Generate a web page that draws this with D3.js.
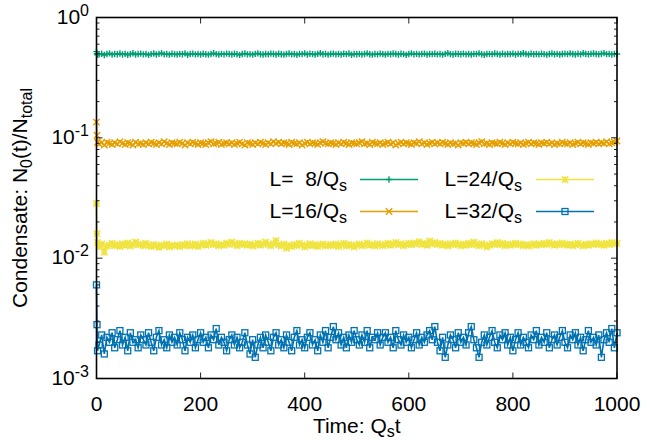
<!DOCTYPE html>
<html>
<head>
<meta charset="utf-8">
<script src="https://cdn.jsdelivr.net/npm/d3@7"></script>
<style>
  body { margin: 0; background: #fff; }
  text { font-family: "Liberation Sans", Arial, sans-serif; fill: #000; }
</style>
</head>
<body>
<div id="chart"></div>
<script>
// sampling times (Q_s t): first few early steps, then every 5
const time = [0, 1, 2].concat(d3.range(5, 1001, 5));

const seriesNames = ["L=  8/Q", "L=16/Q", "L=24/Q", "L=32/Q"];
const seriesColors = ["#009e73", "#e69f00", "#f0e442", "#0072b2"];
const seriesMarks = ["plus", "cross", "star", "square"];

const L8 = [.52,.50,.49,
  .494,.500,.488,.497,.503,.491,.498,.495,.502,.493,
  .499,.490,.496,.504,.492,.498,.501,.494,.497,.489,
  .496,.502,.493,.499,.505,.494,.497,.491,.500,.496,
  .492,.499,.495,.503,.490,.497,.501,.494,.498,.493,
  .500,.495,.491,.498,.504,.496,.492,.499,.494,.501,
  .497,.493,.500,.495,.489,.498,.502,.494,.496,.491,
  .499,.503,.495,.492,.498,.494,.501,.497,.493,.500,
  .495,.491,.498,.502,.494,.497,.490,.499,.496,.503,
  .493,.500,.496,.492,.499,.504,.495,.498,.491,.497,
  .501,.494,.498,.493,.500,.496,.502,.490,.497,.495,
  .499,.493,.497,.503,.495,.491,.498,.494,.501,.496,
  .492,.499,.495,.502,.497,.493,.500,.496,.489,.498,
  .503,.495,.499,.494,.497,.501,.492,.498,.496,.500,
  .494,.498,.491,.499,.505,.496,.493,.500,.497,.495,
  .501,.494,.498,.492,.499,.496,.503,.495,.490,.497,
  .499,.495,.502,.497,.493,.500,.494,.498,.496,.501,
  .493,.499,.496,.504,.498,.492,.500,.495,.497,.494,
  .500,.496,.491,.498,.502,.495,.499,.493,.497,.501,
  .496,.503,.497,.493,.500,.494,.505,.498,.495,.499,
  .502,.497,.494,.500,.506,.496,.499,.493,.498,.497];

const L16 = [.135,.105,.092,
  .089,.091,.087,.092,.090,.088,.091,.089,.093,.090,
  .088,.091,.090,.087,.092,.089,.090,.088,.091,.089,
  .092,.090,.088,.091,.089,.093,.090,.088,.091,.090,
  .089,.092,.090,.087,.091,.089,.092,.090,.088,.091,
  .090,.088,.091,.093,.089,.090,.092,.088,.090,.091,
  .089,.091,.088,.090,.092,.089,.087,.091,.090,.088,
  .091,.089,.092,.090,.088,.091,.089,.093,.090,.092,
  .089,.091,.090,.088,.092,.090,.089,.091,.087,.090,
  .092,.089,.091,.090,.088,.091,.093,.090,.089,.091,
  .090,.088,.091,.089,.092,.090,.088,.091,.090,.089,
  .091,.093,.089,.090,.088,.092,.090,.089,.091,.088,
  .090,.092,.089,.091,.087,.090,.092,.089,.091,.090,
  .088,.091,.090,.093,.089,.091,.088,.090,.092,.089,
  .091,.089,.092,.090,.088,.091,.089,.090,.087,.091,
  .090,.092,.089,.091,.090,.088,.091,.093,.089,.090,
  .088,.091,.090,.089,.092,.090,.088,.091,.089,.092,
  .090,.089,.091,.088,.090,.092,.089,.091,.090,.088,
  .091,.090,.092,.089,.091,.088,.090,.089,.092,.090,
  .089,.091,.088,.090,.092,.089,.091,.090,.088,.091,
  .090,.092,.089,.091,.090,.093,.089,.091,.092,.094];

const L24 = [.0285,.0160,.0135,
  .0124,.0131,.0112,.0126,.0129,.0133,.0127,.0130,.0125,.0132,
  .0128,.0134,.0126,.0130,.0136,.0129,.0131,.0127,.0133,.0128,
  .0125,.0130,.0127,.0123,.0129,.0126,.0131,.0124,.0128,.0126,
  .0129,.0125,.0130,.0127,.0132,.0126,.0128,.0131,.0125,.0129,
  .0133,.0128,.0131,.0135,.0129,.0132,.0127,.0130,.0128,.0134,
  .0130,.0136,.0131,.0127,.0133,.0129,.0132,.0128,.0131,.0126,
  .0129,.0133,.0128,.0131,.0136,.0130,.0127,.0132,.0140,.0129,
  .0126,.0131,.0121,.0128,.0125,.0130,.0127,.0133,.0129,.0124,
  .0128,.0132,.0127,.0130,.0125,.0129,.0131,.0126,.0128,.0130,
  .0127,.0131,.0125,.0129,.0133,.0126,.0130,.0128,.0124,.0129,
  .0131,.0127,.0129,.0134,.0128,.0130,.0126,.0132,.0129,.0127,
  .0130,.0133,.0128,.0131,.0135,.0129,.0132,.0127,.0130,.0133,
  .0129,.0134,.0131,.0137,.0130,.0133,.0128,.0139,.0131,.0135,
  .0130,.0133,.0128,.0131,.0126,.0132,.0129,.0134,.0130,.0127,
  .0131,.0128,.0133,.0129,.0136,.0130,.0127,.0132,.0129,.0124,
  .0128,.0132,.0130,.0135,.0129,.0133,.0127,.0131,.0128,.0130,
  .0133,.0129,.0131,.0127,.0130,.0126,.0129,.0132,.0128,.0131,
  .0129,.0133,.0130,.0135,.0131,.0128,.0132,.0129,.0134,.0130,
  .0128,.0131,.0127,.0130,.0133,.0129,.0126,.0131,.0128,.0132,
  .0130,.0134,.0129,.0132,.0128,.0133,.0130,.0135,.0131,.0133];

const L32 = [.0060,.0028,.0017,
  .0019,.0023,.0016,.0022,.0020,.0024,.0018,.0021,.0025,.0019,
  .0022,.0017,.0024,.0020,.0021,.0018,.0023,.0021,.0019,.0024,
  .0020,.0017,.0022,.0025,.0019,.0021,.0018,.0023,.0020,.0022,
  .0019,.0024,.0021,.0017,.0022,.0020,.0023,.0018,.0021,.0024,
  .0020,.0022,.0018,.0023,.0021,.0026,.0019,.0022,.0020,.0017,
  .0021,.0023,.0019,.0022,.0018,.0020,.0024,.0019,.0016,.0021,
  .0015,.0019,.0022,.0018,.0023,.0020,.0017,.0022,.0024,.0019,
  .0021,.0018,.0023,.0020,.0017,.0022,.0025,.0019,.0021,.0018,
  .0022,.0024,.0019,.0021,.0017,.0023,.0020,.0025,.0018,.0022,
  .0027,.0021,.0024,.0019,.0022,.0018,.0023,.0020,.0025,.0021,
  .0019,.0023,.0020,.0025,.0018,.0022,.0021,.0024,.0019,.0022,
  .0024,.0020,.0022,.0018,.0025,.0021,.0019,.0023,.0020,.0022,
  .0018,.0021,.0024,.0019,.0022,.0020,.0023,.0025,.0021,.0027,
  .0020,.0017,.0022,.0015,.0019,.0023,.0021,.0018,.0024,.0020,
  .0022,.0019,.0024,.0027,.0021,.0018,.0015,.0020,.0023,.0019,
  .0022,.0025,.0020,.0018,.0023,.0021,.0024,.0019,.0022,.0017,
  .0021,.0024,.0019,.0022,.0020,.0018,.0023,.0021,.0025,.0019,
  .0022,.0020,.0024,.0018,.0021,.0023,.0019,.0022,.0025,.0020,
  .0018,.0023,.0021,.0024,.0019,.0022,.0017,.0021,.0025,.0020,
  .0022,.0019,.0023,.0015,.0021,.0024,.0020,.0026,.0018,.0024];

const xTicks = [0, 200, 400, 600, 800, 1000];
const yTicks = [1e-3, 1e-2, 1e-1, 1];
const yTickExp = ["-3", "-2", "-1", "0"];

const allSeries = [L8, L16, L24, L32];

const width = 645, height = 440;
const margin = { top: 17.5, right: 28, bottom: 61.5, left: 96.5 };

const svg = d3.select("#chart").append("svg")
    .attr("width", width).attr("height", height);

const x = d3.scaleLinear()
    .domain([0, 1000])
    .range([margin.left, width - margin.right]);

const y = d3.scaleLog()
    .domain([1e-3, 1])
    .range([height - margin.bottom, margin.top]);

// draws one gnuplot-like point symbol
function drawMark(g, kind, color, cx, cy) {
    const s = 3.2;
    if (kind === "plus") {
        g.append("path").attr("d", `M${cx - s},${cy}H${cx + s}M${cx},${cy - s}V${cy + s}`)
            .attr("stroke", color).attr("stroke-width", 1.4);
    } else if (kind === "cross") {
        g.append("path").attr("d", `M${cx - s},${cy - s}L${cx + s},${cy + s}M${cx - s},${cy + s}L${cx + s},${cy - s}`)
            .attr("stroke", color).attr("stroke-width", 1.4);
    } else if (kind === "star") {
        g.append("path").attr("d", `M${cx - s},${cy}H${cx + s}M${cx},${cy - s}V${cy + s}M${cx - s},${cy - s}L${cx + s},${cy + s}M${cx - s},${cy + s}L${cx + s},${cy - s}`)
            .attr("stroke", color).attr("stroke-width", 1.5);
    } else {
        g.append("rect").attr("x", cx - 3).attr("y", cy - 3)
            .attr("width", 6).attr("height", 6)
            .attr("fill", "none").attr("stroke", color).attr("stroke-width", 1.3);
    }
}

// data
const line = d3.line().x((d, i) => x(time[i])).y(d => y(d));
allSeries.forEach((vals, k) => {
    const g = svg.append("g");
    g.append("path")
        .attr("d", line(vals))
        .attr("fill", "none")
        .attr("stroke", seriesColors[k])
        .attr("stroke-width", 1.6);
    vals.forEach((v, i) => drawMark(g, seriesMarks[k], seriesColors[k], x(time[i]), y(v)));
});

// ticks (inward, mirrored)
const yAll = y.ticks();
const tickG = svg.append("g").attr("stroke", "#222").attr("stroke-width", 1);
xTicks.forEach(t => {
    tickG.append("line").attr("x1", x(t)).attr("x2", x(t))
        .attr("y1", y.range()[0]).attr("y2", y.range()[0] - 6);
    tickG.append("line").attr("x1", x(t)).attr("x2", x(t))
        .attr("y1", y.range()[1]).attr("y2", y.range()[1] + 6);
});
yAll.forEach(t => {
    const major = yTicks.some(m => Math.abs(m - t) / m < 1e-6);
    const len = major ? 6 : 3;
    tickG.append("line").attr("x1", x.range()[0]).attr("x2", x.range()[0] + len)
        .attr("y1", y(t)).attr("y2", y(t));
    tickG.append("line").attr("x1", x.range()[1]).attr("x2", x.range()[1] - len)
        .attr("y1", y(t)).attr("y2", y(t));
});

// frame
svg.append("rect")
    .attr("x", x.range()[0]).attr("y", y.range()[1])
    .attr("width", x.range()[1] - x.range()[0])
    .attr("height", y.range()[0] - y.range()[1])
    .attr("fill", "none").attr("stroke", "#000").attr("stroke-width", 1.6);

// tick labels
svg.selectAll("text.xt")
    .data(xTicks)
    .enter().append("text")
    .attr("class", "xt")
    .attr("x", d => x(d))
    .attr("y", 411)
    .attr("text-anchor", "middle")
    .attr("font-size", 21)
    .text(d => d);

yTicks.forEach((t, i) => {
    const tx = svg.append("text")
        .attr("x", 89).attr("y", y(t) + 6)
        .attr("text-anchor", "end")
        .attr("font-size", 21);
    tx.append("tspan").text("10");
    tx.append("tspan").attr("dy", -8).attr("font-size", 16).text(yTickExp[i]);
});

// axis titles
const yl = svg.append("text")
    .attr("transform", `translate(27,${(y.range()[0] + y.range()[1]) / 2}) rotate(-90)`)
    .attr("text-anchor", "middle")
    .attr("font-size", 21);
yl.append("tspan").text("Condensate: N");
yl.append("tspan").attr("dy", 5).attr("font-size", 16).text("0");
yl.append("tspan").attr("dy", -5).text("(t)/N");
yl.append("tspan").attr("dy", 5).attr("font-size", 16).text("total");

const xl = svg.append("text")
    .attr("x", (x.range()[0] + x.range()[1]) / 2).attr("y", 433)
    .attr("text-anchor", "middle")
    .attr("font-size", 21);
xl.append("tspan").text("Time: Q");
xl.append("tspan").attr("dy", 4).attr("font-size", 16).text("s");
xl.append("tspan").attr("dy", -4).text("t");

// legend: two columns, two rows
const legendPos = [
    { tx: 347, lx: 360, cy: 179.5 },
    { tx: 347, lx: 360, cy: 211.5 },
    { tx: 522, lx: 536, cy: 179.5 },
    { tx: 522, lx: 536, cy: 211.5 }
];
seriesNames.forEach((name, k) => {
    const p = legendPos[k];
    const t = svg.append("text")
        .attr("x", p.tx).attr("y", p.cy + 6)
        .attr("text-anchor", "end")
        .attr("font-size", 21)
        .style("white-space", "pre");
    t.append("tspan").text(name);
    t.append("tspan").attr("dy", 5).attr("font-size", 16).text("s");
    const g = svg.append("g");
    g.append("line")
        .attr("x1", p.lx).attr("x2", p.lx + 58)
        .attr("y1", p.cy).attr("y2", p.cy)
        .attr("stroke", seriesColors[k]).attr("stroke-width", 1.5);
    drawMark(g, seriesMarks[k], seriesColors[k], p.lx + 29, p.cy);
});
</script>
</body>
</html>
